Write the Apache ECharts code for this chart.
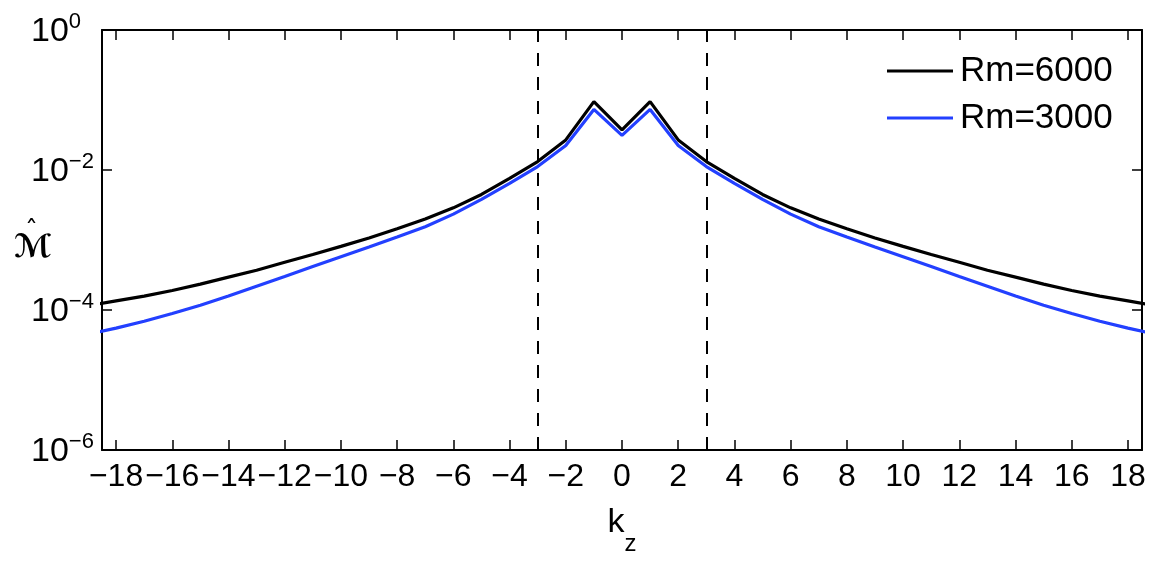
<!DOCTYPE html>
<html>
<head>
<meta charset="utf-8">
<script src="https://cdn.jsdelivr.net/npm/echarts@6/dist/echarts.min.js"></script>
<style>
  html, body { margin: 0; padding: 0; background: #fff; }
  #main { width: 1164px; height: 569px; }
</style>
</head>
<body>
<div id="main"></div>
<script>
// wavenumber k_z and spectrum values
var kz = [-19, -18, -17, -16, -15, -14, -13, -12, -11, -10, -9, -8, -7, -6, -5, -4, -3, -2, -1, 0,
  1, 2, 3, 4, 5, 6, 7, 8, 9, 10, 11, 12, 13, 14, 15, 16, 17, 18, 19]
var rm6000 = [1.15e-4, 1.35e-4, 1.58e-4, 1.9e-4, 2.34e-4, 2.95e-4, 3.7e-4, 4.8e-4, 6.2e-4, 8.1e-4,
  1.07e-3, 1.45e-3, 2.0e-3, 2.88e-3, 4.47e-3, 7.59e-3, 1.32e-2, 2.69e-2, 9.48e-2, 3.74e-2,
  9.48e-2, 2.69e-2, 1.32e-2, 7.59e-3, 4.47e-3, 2.88e-3, 2.0e-3, 1.45e-3, 1.07e-3, 8.1e-4,
  6.2e-4, 4.8e-4, 3.7e-4, 2.95e-4, 2.34e-4, 1.9e-4, 1.58e-4, 1.35e-4, 1.15e-4]
var rm3000 = [4.5e-5, 5.5e-5, 6.9e-5, 8.9e-5, 1.17e-4, 1.58e-4, 2.19e-4, 3.02e-4, 4.17e-4, 5.75e-4,
  7.94e-4, 1.1e-3, 1.55e-3, 2.34e-3, 3.8e-3, 6.46e-3, 1.12e-2, 2.24e-2, 7.33e-2, 3.13e-2,
  7.33e-2, 2.24e-2, 1.12e-2, 6.46e-3, 3.8e-3, 2.34e-3, 1.55e-3, 1.1e-3, 7.94e-4, 5.75e-4,
  4.17e-4, 3.02e-4, 2.19e-4, 1.58e-4, 1.17e-4, 8.9e-5, 6.9e-5, 5.5e-5, 4.5e-5]
var xTicks = [-18, -16, -14, -12, -10, -8, -6, -4, -2, 0, 2, 4, 6, 8, 10, 12, 14, 16, 18]
var yTicks = [1e-6, 1e-4, 1e-2, 1]
var cutoffs = [-3, 3]

var font = '"Liberation Sans", Arial, Helvetica, sans-serif'
var chart = echarts.init(document.getElementById('main'))

function pairs(vals) {
  return kz.map(function (k, i) { return [k, vals[i]] })
}
function minus(v) {
  return v < 0 ? '\u2212' + (-v) : String(v)
}

var boxLine = { show: true, onZero: false, lineStyle: { color: '#000', width: 2 } }

var option = {
  animation: false,
  backgroundColor: '#fff',
  grid: { left: 102, right: 22, top: 30, bottom: 119 },
  legend: {
    orient: 'vertical',
    left: 882,
    top: 46,
    icon: 'rect',
    itemWidth: 66,
    itemHeight: 3,
    itemGap: 7,
    textStyle: { fontSize: 35, fontFamily: font, color: '#000', lineHeight: 40, padding: [0, 0, 0, 2] },
    data: ['Rm=6000', 'Rm=3000']
  },
  xAxis: [{
    type: 'value',
    min: -18.5,
    max: 18.5,
    position: 'bottom',
    axisLine: boxLine,
    axisTick: { inside: true, length: 10, customValues: xTicks, lineStyle: { color: '#000', width: 1.5 } },
    axisLabel: {
      customValues: xTicks,
      formatter: minus,
      showMinLabel: true,
      showMaxLabel: true,
      hideOverlap: false,
      fontSize: 32,
      fontFamily: font,
      color: '#000',
      margin: 11
    },
    splitLine: { show: false },
    name: '{k|k}{z|z}',
    nameLocation: 'middle',
    nameGap: 56,
    nameTextStyle: {
      rich: {
        k: { fontSize: 34, fontFamily: font, color: '#000', verticalAlign: 'top', lineHeight: 50 },
        z: { fontSize: 24, fontFamily: font, color: '#000', verticalAlign: 'bottom' }
      }
    }
  }, {
    type: 'value',
    min: -18.5,
    max: 18.5,
    position: 'top',
    axisLine: boxLine,
    axisTick: { inside: true, length: 10, customValues: xTicks, lineStyle: { color: '#000', width: 1.5 } },
    axisLabel: { show: false },
    splitLine: { show: false }
  }],
  yAxis: [{
    type: 'log',
    logBase: 10,
    min: 1e-6,
    max: 1,
    position: 'left',
    axisLine: boxLine,
    axisTick: { inside: true, length: 10, customValues: yTicks, lineStyle: { color: '#000', width: 1.5 } },
    axisLabel: {
      customValues: yTicks,
      showMinLabel: true,
      showMaxLabel: true,
      align: 'left',
      margin: 71,
      formatter: function (v) {
        var e = Math.round(Math.log(v) / Math.LN10)
        return '{b|10}{e|' + minus(e) + '}'
      },
      rich: {
        b: { fontSize: 34, fontFamily: font, color: '#000', verticalAlign: 'bottom', lineHeight: 38 },
        e: { fontSize: 22, fontFamily: font, color: '#000', verticalAlign: 'top', lineHeight: 22 }
      }
    },
    splitLine: { show: false }
  }, {
    type: 'log',
    logBase: 10,
    min: 1e-6,
    max: 1,
    position: 'right',
    axisLine: boxLine,
    axisTick: { inside: true, length: 10, customValues: yTicks, lineStyle: { color: '#000', width: 1.5 } },
    axisLabel: { show: false },
    splitLine: { show: false }
  }],
  graphic: [
    { type: 'text', x: 14, y: 233, style: { text: '\u2133', fontSize: 32, fontWeight: 'bold', fontFamily: 'DejaVu Sans', fill: '#000' } },
    { type: 'text', x: 25, y: 220, style: { text: '\u02C6', fontSize: 26, fontFamily: 'DejaVu Sans', fill: '#000' } }
  ],
  series: [{
    name: 'Rm=6000',
    type: 'line',
    symbol: 'none',
    color: '#000',
    lineStyle: { color: '#000', width: 3.2 },
    data: pairs(rm6000),
    markLine: {
      silent: true,
      symbol: ['none', 'none'],
      label: { show: false },
      lineStyle: { color: '#000', type: [13, 11], width: 2 },
      data: cutoffs.map(function (v) { return { xAxis: v } })
    }
  }, {
    name: 'Rm=3000',
    type: 'line',
    symbol: 'none',
    color: '#2340ff',
    lineStyle: { color: '#2340ff', width: 3.2 },
    data: pairs(rm3000)
  }]
}

chart.setOption(option)
</script>
</body>
</html>
